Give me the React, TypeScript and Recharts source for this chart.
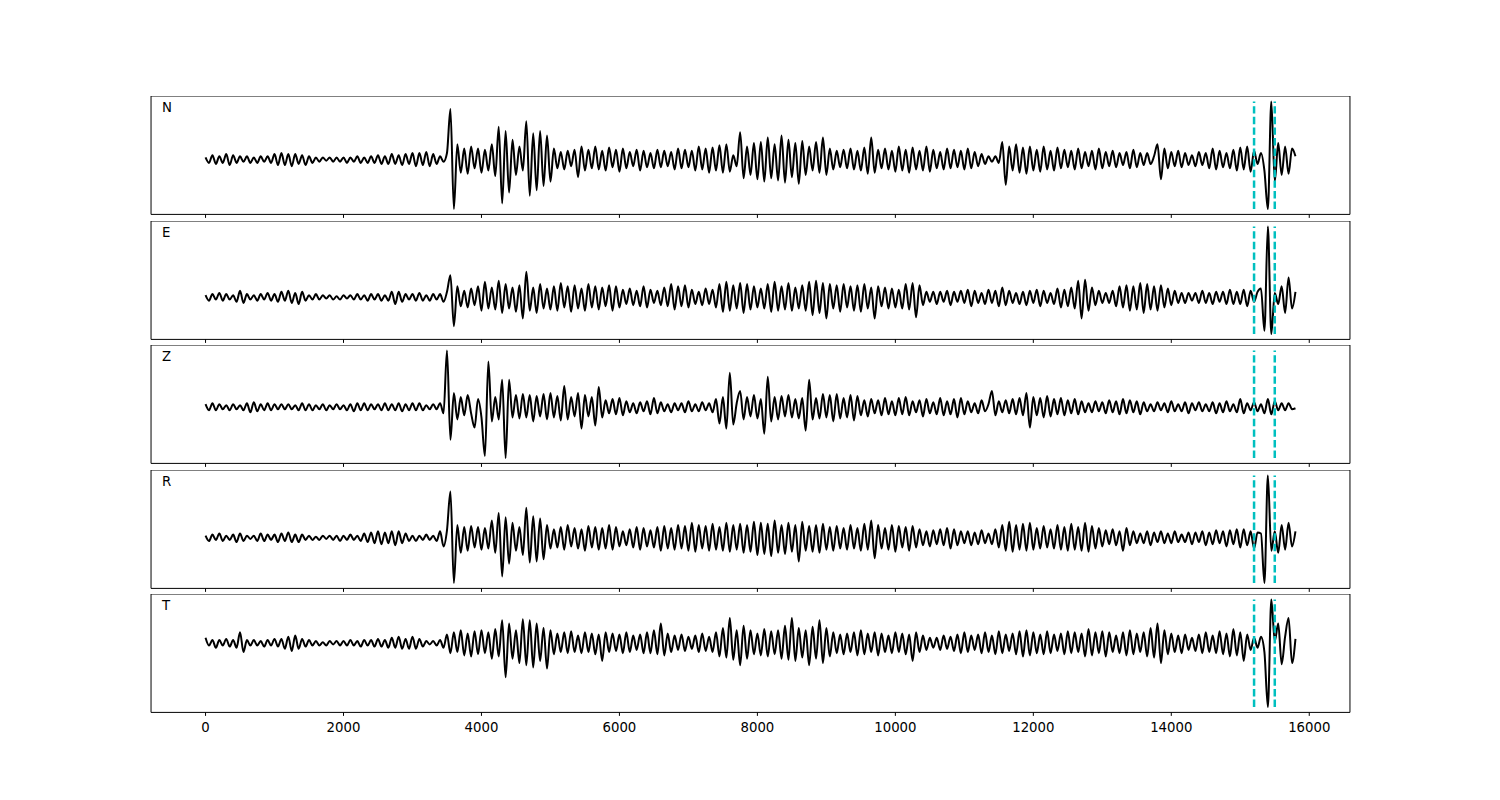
import React from "react";
import { LineChart, Line, XAxis, YAxis, ReferenceLine, ReferenceArea } from "recharts";

// sample step of the traces (samples between two values)
const STEP = 50;
const X_TICKS = [0, 2000, 4000, 6000, 8000, 10000, 12000, 14000, 16000];
const X_DOMAIN: [number, number] = [-790, 16590];
const PICKS = [15200, 15500];

const N = [
  2, -3, 4, -4, 3, -3, 5, -5, 4, -3,
  3, -2, 3, -3, 2, -3, 3, -2, 3, -3,
  5, -5, 6, -5, 5, -6, 5, -4, 4, -5,
  3, -3, 2, -2, 2, -1, 2, -2, 2, -2,
  2, -3, 2, -2, 3, -3, 2, -3, 3, -3,
  4, -4, 3, -4, 5, -4, 4, -5, 5, -4,
  6, -6, 6, -5, 7, -6, 5, -4, 3, -2,
  6, 46, -45, 14, -12, 10, -13, 12, -8, 10,
  -12, 9, -10, 14, -15, 30, -40, 26, -30, 18,
  -14, 12, -10, 35, -33, 24, -28, 26, -24, 22,
  -20, 10, -8, 7, -9, 8, -6, 9, -16, 12,
  -10, 9, -8, 12, -9, 8, -10, 11, -7, 9,
  -11, 10, -8, 7, -6, 9, -10, 8, -7, 6,
  -8, 9, -7, 8, -6, 7, -9, 10, -8, 9,
  -7, 8, -10, 12, -9, 10, -12, 11, -10, 13,
  -12, 14, -11, 4, -6, 25, -17, 12, -14, 15,
  -18, 16, -20, 20, -17, 14, -19, 22, -21, 18,
  -16, 15, -22, 17, -14, 12, -10, 16, -12, 20,
  -14, 10, -9, 8, -7, 9, -8, 10, -9, 8,
  -10, 11, -13, 20, -12, 9, -8, 10, -9, 8,
  -11, 12, -10, 9, -12, 11, -9, 8, -10, 12,
  -11, 9, -8, 7, -9, 10, -8, 9, -7, 8,
  -9, 10, -8, 7, -6, 5, -4, 3, -2, 3,
  -3, 16, -23, 12, -10, 14, -12, 11, -13, 12,
  -10, 9, -11, 12, -9, 8, -10, 11, -8, 9,
  -7, 8, -9, 10, -8, 7, -6, 8, -9, 10,
  -8, 7, -6, 8, -7, 6, -5, 7, -8, 9,
  -7, 6, -5, 6, -4, 3, 14, -18, 10, -8,
  7, -6, 8, -7, 6, -5, 4, -6, 7, -5,
  6, -8, 10, -9, 8, -7, 6, -8, 9, -10,
  11, -9, 12, -11, 8, -4, 6, -10, -45, 53,
  -20, 15, -14, 12, -13, 10, 3,
];

const E = [
  2, -3, 3, -2, 4, -3, 3, -2, 2, -4,
  6, -5, 3, -2, 2, -3, 3, -2, 4, -3,
  3, -4, 5, -3, 6, -5, 4, -6, 5, -3,
  2, -2, 3, -2, 2, -1, 2, -2, 1, -2,
  2, -1, 2, -2, 3, -2, 2, -3, 3, -2,
  3, -3, 2, -3, 5, -6, 5, -4, 3, -2,
  3, -3, 4, -3, 2, -3, 3, -2, 3, -4,
  5, 20, -26, 10, -8, 6, -9, 8, -7, 10,
  -12, 14, -10, 9, -11, 15, -14, 12, -10, 9,
  -13, 11, -19, 23, -12, 9, -14, 12, -10, 8,
  -11, 10, -12, 13, -9, 10, -13, 11, -10, 8,
  -12, 12, -9, 10, -11, 9, -8, 11, -12, 10,
  -9, 7, -6, 8, -7, 6, -8, 10, -9, 7,
  -5, 6, -7, 9, -8, 12, -11, 10, -8, 11,
  -9, 7, -6, 5, -7, 8, -6, 7, -9, 12,
  -13, 14, -12, 11, -10, 13, -14, 12, -11, 10,
  -9, 8, -10, 12, -13, 14, -12, 10, -11, 13,
  -12, 9, -10, 11, -12, 14, -16, 15, -14, 13,
  -19, 12, -10, 11, -13, 12, -9, 10, -12, 11,
  -13, 12, -10, 9, -19, 10, -8, 9, -10, 8,
  -9, 7, -10, 12, -11, 13, -18, 11, -7, 5,
  -4, 5, -6, 5, -4, 6, -7, 5, -4, 6,
  -5, 7, -8, 6, -5, 4, -6, 7, -5, 6,
  -8, 9, -7, 6, -5, 4, -6, 5, -7, 6,
  -5, 7, -8, 6, -5, 4, -6, 8, -9, 7,
  -8, 9, -10, 15, -19, 16, -12, 9, -7, 6,
  -5, 4, -5, 6, -8, 10, -9, 11, -12, 10,
  -11, 13, -14, 12, -11, 10, -12, 11, -9, 8,
  -7, 6, -5, 4, -5, 4, -3, 4, -5, 6,
  -5, 4, -6, 5, -4, 5, -6, 7, -6, 5,
  -6, 7, -8, 6, -4, 5, 8, -30, 64, -33,
  4, -6, 10, -14, 18, -10, 5,
];

const Z = [
  3, -3, 4, -3, 3, -2, 2, -3, 3, -2,
  2, -3, 4, -5, 5, -4, 3, -3, 4, -3,
  3, -2, 3, -2, 3, -2, 2, -3, 4, -3,
  3, -3, 2, -2, 3, -3, 2, -2, 3, -2,
  2, -3, 3, -4, 4, -3, 4, -3, 3, -2,
  3, -3, 4, -3, 3, -3, 4, -4, 3, -3,
  4, -3, 4, -3, 2, -2, 3, -2, 4, -6,
  56, -32, 14, -12, 10, -8, 12, -6, -20, 8,
  -10, -48, 45, -14, 10, -12, 27, -50, 27, -10,
  12, -11, 13, -10, 12, -14, 11, -9, 13, -12,
  14, -10, 11, -13, 21, -12, 10, -9, 14, -21,
  12, -9, 10, -18, 20, -10, 7, -6, 8, -7,
  9, -8, 6, -5, 4, -6, 5, -4, 6, -7,
  9, -6, 5, -4, 3, -5, 4, -3, 4, -5,
  6, -4, 3, -4, 5, -3, 4, -5, 8, -16,
  10, -21, 34, -17, 4, 16, -12, 10, -9, 12,
  -11, 8, -26, 30, -14, 10, -12, 11, -9, 12,
  -10, 8, -11, 9, -23, 27, -12, 9, -11, 13,
  -10, 12, -14, 13, -11, 9, -10, 12, -13, 11,
  -8, 7, -9, 8, -6, 7, -8, 9, -7, 6,
  -8, 9, -7, 10, -8, 6, -5, 7, -9, 8,
  -6, 5, -7, 9, -8, 6, -7, 8, -10, 9,
  -7, 6, -5, 4, -6, 7, -4, 3, 16, -8,
  6, -5, 7, -6, 8, -7, 9, -8, 14, -20,
  10, -8, 9, -10, 11, -9, 8, -7, 9, -8,
  7, -6, 8, -7, 6, -5, 4, -5, 6, -4,
  5, -6, 7, -5, 6, -7, 8, -6, 7, -5,
  6, -7, 5, -4, 3, -4, 5, -3, 4, -5,
  6, -4, 3, -4, 5, -6, 4, -3, 5, -4,
  3, -4, 5, -6, 4, -5, 6, -4, 3, -5,
  8, -6, 4, -3, 5, -4, 3, -6, 8, -7,
  6, -3, 4, -3, 4, -2, -1,
];

const R = [
  2, -3, 3, -2, 4, -3, 2, -2, 3, -4,
  4, -3, 2, -1, 2, -3, 4, -3, 3, -2,
  3, -4, 4, -3, 5, -4, 3, -4, 3, -2,
  2, -2, 1, -2, 2, -1, 2, -2, 2, -3,
  2, -2, 3, -2, 2, -3, 4, -4, 5, -5,
  6, -6, 5, -5, 6, -7, 6, -5, 4, -3,
  2, -3, 2, -2, 3, -2, 2, -3, 6, -8,
  7, 43, -42, 12, -14, 10, -12, 11, -9, 10,
  -11, 9, -10, 16, -14, 23, -36, 19, -24, 14,
  -12, 10, -16, 28, -23, 20, -22, 18, -20, 12,
  -10, 8, -9, 10, -11, 12, -8, 9, -10, 8,
  -12, 11, -9, 10, -11, 9, -10, 12, -11, 10,
  -8, 6, -7, 8, -9, 10, -11, 9, -8, 7,
  -9, 10, -12, 11, -10, 9, -11, 12, -10, 11,
  -12, 14, -13, 12, -10, 11, -12, 13, -11, 10,
  -12, 14, -13, 12, -11, 13, -14, 12, -13, 15,
  -16, 14, -15, 13, -17, 16, -14, 12, -15, 14,
  -13, 12, -22, 15, -12, 11, -13, 12, -14, 13,
  -11, 10, -12, 11, -10, 9, -11, 12, -10, 9,
  -12, 13, -11, 16, -19, 12, -10, 9, -11, 12,
  -13, 11, -9, 10, -12, 11, -9, 8, -7, 6,
  -8, 7, -6, 8, -7, 9, -10, 8, -7, 6,
  -5, 6, -7, 5, -6, 7, -5, 4, -6, 8,
  -9, 12, -12, 15, -13, 12, -11, 13, -12, 14,
  -11, 9, -10, 11, -9, 8, -10, 12, -11, 10,
  -12, 13, -11, 10, -12, 14, -13, 11, -10, 9,
  -8, 7, -6, 8, -7, 6, -12, 9, -7, 6,
  -5, 4, -5, 6, -7, 5, -4, 6, -5, 4,
  -5, 6, -4, 3, -4, 5, -6, 5, -4, 6,
  -7, 5, -6, 7, -5, 6, -8, 7, -6, 8,
  -9, 8, -7, 6, -10, 5, 4, -42, 58, -12,
  6, -14, 12, -11, 14, -8, 6,
];

const T = [
  5, -2, 3, -4, 3, -2, 4, -3, 3, -4,
  10, -8, 3, -2, 3, -2, 2, -3, 3, -2,
  4, -3, 4, -5, 6, -7, 7, -5, 4, -3,
  3, -2, 2, -2, 1, -2, 2, -1, 2, -2,
  2, -2, 3, -2, 2, -3, 3, -2, 3, -3,
  4, -3, 3, -4, 5, -4, 6, -5, 4, -5,
  6, -5, 4, -3, 2, -1, 2, -2, 3, -4,
  8, -9, 10, -8, 12, -11, 9, -12, 11, -10,
  12, -9, 10, -14, 13, -12, 21, -31, 18, -14,
  12, -18, 22, -20, 21, -22, 18, -16, 14, -23,
  12, -10, 9, -8, 10, -9, 11, -8, 7, -9,
  10, -8, 9, -10, 8, -16, 10, -8, 9, -7,
  8, -9, 10, -8, 7, -6, 8, -9, 10, -9,
  12, -10, 18, -11, 9, -8, 7, -6, 8, -7,
  6, -5, 7, -8, 9, -7, 6, -8, 10, -12,
  14, -13, 23, -15, 12, -20, 16, -14, 12, -10,
  9, -11, 13, -12, 11, -10, 12, -14, 16, -15,
  23, -16, 14, -13, 12, -20, 15, -14, 21, -18,
  14, -12, 10, -9, 8, -10, 9, -8, 10, -11,
  12, -10, 9, -8, 10, -11, 9, -8, 7, -9,
  10, -8, 9, -10, 8, -16, 10, -8, 7, -6,
  5, -4, 5, -6, 7, -5, 6, -7, 8, -9,
  10, -8, 7, -6, 8, -9, 10, -8, 7, -10,
  11, -9, 8, -7, 9, -10, 11, -12, 12, -11,
  10, -9, 8, -10, 11, -9, 8, -7, 9, -10,
  11, -9, 10, -8, 9, -12, 13, -11, 10, -9,
  11, -12, 10, -8, 7, -9, 10, -11, 12, -10,
  9, -8, 10, -12, 14, -13, 18, -18, 12, -10,
  9, -8, 7, -9, 8, -6, 5, -7, 8, -9,
  10, -8, 7, -9, 11, -10, 9, -12, 13, -11,
  10, -16, 8, -6, 5, -4, 6, -8, -58, 40,
  2, 18, -19, 6, 23, -18, 4,
];

const CHANNELS = [
  { name: "N", values: N },
  { name: "E", values: E },
  { name: "Z", values: Z },
  { name: "R", values: R },
  { name: "T", values: T },
];

const data = N.map((_, i) => ({
  t: i * STEP,
  N: N[i],
  E: E[i],
  Z: Z[i],
  R: R[i],
  T: T[i],
}));

const PANEL_TOPS = [96, 220.5, 345, 469.5, 594];
const PANEL_H = 118.4;
const FONT = "'DejaVu Sans', sans-serif";
const CYAN = "#00bfbf";

function Panel({ name, values, top, last }: { name: string; values: number[]; top: number; last: boolean }) {
  const lo = Math.min(...values);
  const hi = Math.max(...values);
  const pad = (hi - lo) * 0.05;
  const yDomain: [number, number] = [lo - pad, hi + pad];
  const axisH = last ? 30 : 5;

  return (
    <div style={{ position: "absolute", left: 0, top }}>
      <LineChart
        width={1500}
        height={PANEL_H + axisH}
        data={data}
        margin={{ top: 0, right: 150, bottom: 0, left: 151 }}
      >
        <XAxis
          dataKey="t"
          type="number"
          domain={X_DOMAIN}
          ticks={X_TICKS}
          allowDataOverflow
          height={axisH}
          axisLine={false}
          tickSize={3.5}
          tickMargin={7}
          tickLine={{ stroke: "#000", strokeWidth: 1 }}
          tick={{ fill: "#000", fontSize: 13.3, fontFamily: FONT }}
          tickFormatter={(v: number) => (last ? String(v) : "")}
        />
        <YAxis type="number" domain={yDomain} allowDataOverflow hide width={0} />
        <ReferenceArea
          x1={X_DOMAIN[0]}
          x2={X_DOMAIN[1]}
          y1={yDomain[0]}
          y2={yDomain[1]}
          fill="none"
          stroke="#000"
          strokeWidth={1}
        />
        <Line
          dataKey={name}
          type="monotone"
          stroke="#000"
          strokeWidth={2}
          dot={false}
          isAnimationActive={false}
        />
        {PICKS.map((p) => (
          <ReferenceLine
            key={p}
            segment={[{ x: p, y: lo }, { x: p, y: hi }]}
            stroke={CYAN}
            strokeWidth={2.5}
            strokeDasharray="7.4 3.2"
          />
        ))}
      </LineChart>
      <div
        style={{
          position: "absolute",
          left: 162,
          top: 5,
          fontFamily: FONT,
          fontSize: 13.3,
          lineHeight: 1,
          color: "#000",
        }}
      >
        {name}
      </div>
    </div>
  );
}

export default function App() {
  return (
    <div style={{ position: "absolute", left: 0, top: 0, width: 1500, height: 800, background: "#fff" }}>
      {CHANNELS.map((c, k) => (
        <Panel key={c.name} name={c.name} values={c.values} top={PANEL_TOPS[k]} last={k === CHANNELS.length - 1} />
      ))}
    </div>
  );
}
